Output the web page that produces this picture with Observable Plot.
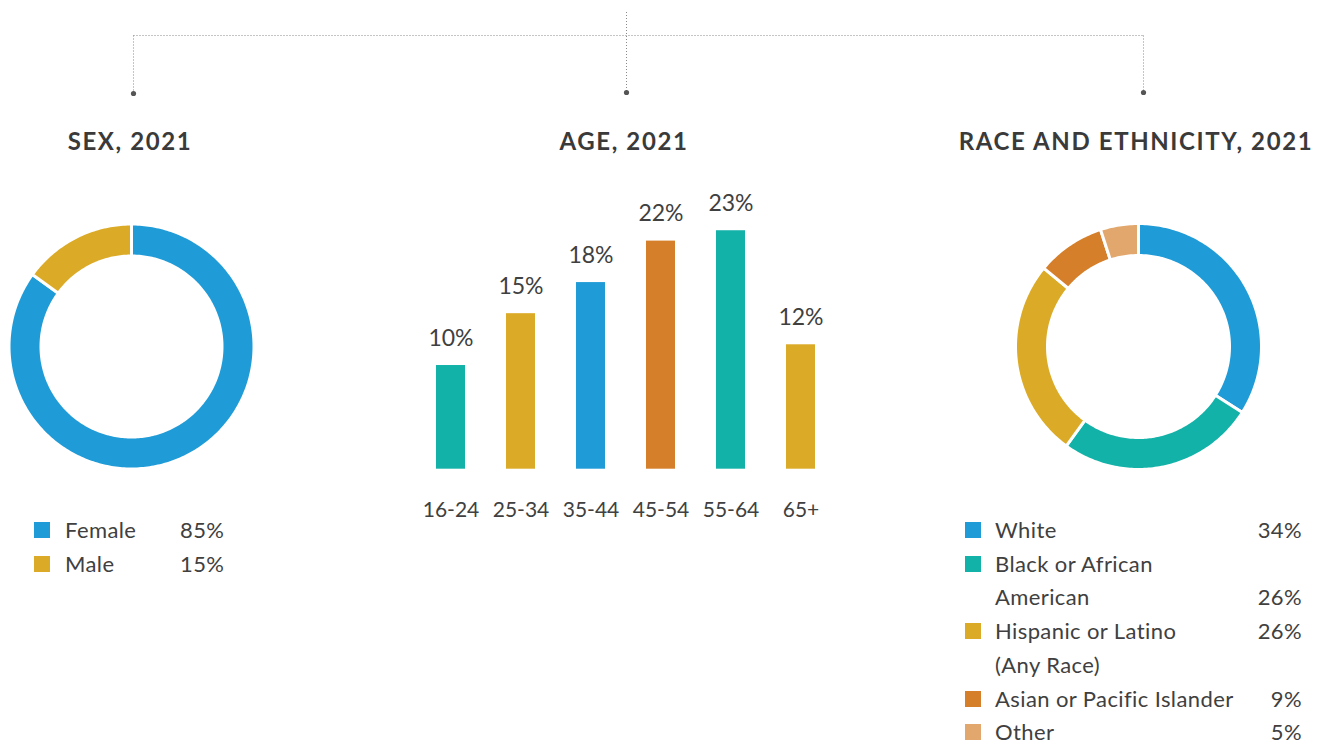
<!DOCTYPE html>
<html><head><meta charset="utf-8">
<script src="https://cdn.jsdelivr.net/npm/d3@7"></script>
<script src="https://cdn.jsdelivr.net/npm/@observablehq/plot@0.6"></script>
<style>
html,body{margin:0;padding:0;background:#fff;}
#root{position:relative;width:1321px;height:745px;overflow:hidden;font-family:Lato,"Open Sans",sans-serif;color:#404040;}
.title{position:absolute;font-weight:700;font-size:24px;letter-spacing:1.6px;color:#3a3a3a;white-space:nowrap;transform:translateX(-50%);line-height:1;}
.leg{position:absolute;font-size:22px;letter-spacing:0.4px;line-height:34px;white-space:nowrap;color:#404040;}
.sw{position:absolute;width:16px;height:16px;}
.panel{position:absolute;}
</style></head><body><div id="root"></div>
<script>
// ---- data ----
const titles = ["SEX, 2021", "AGE, 2021", "RACE AND ETHNICITY, 2021"];

const sexCategories = ["Female", "Male"];
const sexValues = [85, 15];
const sexColors = ["#1f9bd7", "#dbab27"];

const ageCategories = ["16-24", "25-34", "35-44", "45-54", "55-64", "65+"];
const ageValues = [10, 15, 18, 22, 23, 12];
const ageColors = ["#13b2a8", "#dbab27", "#1f9bd7", "#d57f2a", "#13b2a8", "#dbab27"];

const raceCategories = ["White", "Black or African American", "Hispanic or Latino (Any Race)", "Asian or Pacific Islander", "Other"];
const raceLegendLines = [["White"], ["Black or African", "American"], ["Hispanic or Latino", "(Any Race)"], ["Asian or Pacific Islander"], ["Other"]];
const racePctLine = [0, 1, 0, 0, 0];
const raceValues = [34, 26, 26, 9, 5];
const raceColors = ["#1f9bd7", "#13b2a8", "#dbab27", "#d57f2a", "#e2a76c"];

const root = document.getElementById("root");
const FONT = "Lato, 'Open Sans', sans-serif";

// ---- decorative connectors ----
const NS = "http://www.w3.org/2000/svg";
const deco = document.createElementNS(NS, "svg");
deco.setAttribute("width", 1321); deco.setAttribute("height", 120);
deco.style.position = "absolute"; deco.style.left = "0"; deco.style.top = "0";
function dline(x1, y1, x2, y2) {
  const l = document.createElementNS(NS, "line");
  l.setAttribute("x1", x1); l.setAttribute("y1", y1); l.setAttribute("x2", x2); l.setAttribute("y2", y2);
  l.setAttribute("stroke", "#8a8a8a"); l.setAttribute("stroke-width", 1); l.setAttribute("stroke-dasharray", "1 2");
  deco.appendChild(l);
}
function dot(x, y) {
  const c = document.createElementNS(NS, "circle");
  c.setAttribute("cx", x); c.setAttribute("cy", y); c.setAttribute("r", 2.6); c.setAttribute("fill", "#555");
  deco.appendChild(c);
}
dline(133.5, 35.5, 1143.5, 35.5);
dline(133.5, 35.5, 133.5, 93);
dline(626.5, 12, 626.5, 92);
dline(1143.5, 35.5, 1143.5, 92);
dot(133.5, 93.5); dot(626.5, 92.5); dot(1143.5, 92.5);
root.appendChild(deco);

// ---- titles ----
const titleX = [130, 624, 1136];
titles.forEach((t, i) => {
  const d = document.createElement("div");
  d.className = "title"; d.textContent = t;
  d.style.left = titleX[i] + "px"; d.style.top = "129px";
  root.appendChild(d);
});

// ---- donut helper ----
function donut(names, values, colors, size, rOuter, rInner) {
  const arcs = d3.pie().sort(null).value(d => d)(values);
  const pts = [];
  arcs.forEach((s, i) => {
    const n = Math.max(8, Math.ceil((s.endAngle - s.startAngle) / (2 * Math.PI) * 360));
    for (let k = 0; k <= n; k++) {
      const a = s.startAngle + (s.endAngle - s.startAngle) * k / n;
      pts.push({name: names[i], x: rOuter * Math.sin(a), y: rOuter * Math.cos(a)});
    }
    for (let k = n; k >= 0; k--) {
      const a = s.startAngle + (s.endAngle - s.startAngle) * k / n;
      pts.push({name: names[i], x: rInner * Math.sin(a), y: rInner * Math.cos(a)});
    }
  });
  return Plot.plot({
    width: size, height: size, margin: 0,
    x: {domain: [-size / 2, size / 2], axis: null},
    y: {domain: [-size / 2, size / 2], axis: null},
    color: {domain: names, range: colors},
    marks: [
      Plot.line(pts, {x: "x", y: "y", z: "name", fill: "name", stroke: "white", strokeWidth: 3, curve: "linear-closed"})
    ]
  });
}

function place(el, left, top) {
  const w = document.createElement("div");
  w.className = "panel"; w.style.left = left + "px"; w.style.top = top + "px";
  w.appendChild(el); root.appendChild(w);
}

// ---- sex donut ----
place(donut(sexCategories, sexValues, sexColors, 252, 122.5, 90.5), 131 - 126, 345.5 - 126);

// ---- race donut ----
place(donut(raceCategories, raceValues, raceColors, 252, 123, 91), 1137.5 - 126, 345.5 - 126);

// ---- age bars ----
const ageData = ageCategories.map((c, i) => ({age: c, value: ageValues[i]}));
const bars = Plot.plot({
  width: 450, height: 349,
  marginLeft: 13, marginRight: 13, marginTop: 29.5, marginBottom: 60.3,
  style: {fontFamily: FONT, fontSize: "21px", color: "#404040", background: "transparent", overflow: "visible"},
  x: {domain: ageCategories, paddingInner: 0.589, paddingOuter: 0.2945, label: null, tickSize: 0, tickPadding: 33},
  y: {domain: [0, 25], axis: null},
  color: {domain: ageCategories, range: ageColors},
  marks: [
    Plot.barY(ageData, {x: "age", y: "value", fill: "age"}),
    Plot.text(ageData, {x: "age", y: "value", text: d => d.value + "%", dy: -20, lineAnchor: "bottom", fontSize: 23, fill: "#404040"})
  ]
});
place(bars, 400, 180);

// ---- legends ----
function swatch(color, left, centerY) {
  const s = document.createElement("div");
  s.className = "sw"; s.style.background = color;
  s.style.left = left + "px"; s.style.top = (centerY - 8) + "px";
  root.appendChild(s);
}
function text(t, left, centerY, alignRight) {
  const d = document.createElement("div");
  d.className = "leg"; d.textContent = t;
  d.style.top = (centerY - 17) + "px";
  if (alignRight) { d.style.right = (1321 - left) + "px"; } else { d.style.left = left + "px"; }
  root.appendChild(d);
}
sexCategories.forEach((c, i) => {
  const cy = 530 + i * 34;
  swatch(sexColors[i], 34, cy);
  text(c, 65, cy);
  text(sexValues[i] + "%", 180, cy);
});
let line = 0;
raceCategories.forEach((c, i) => {
  const cy0 = 530 + line * 33.7;
  swatch(raceColors[i], 965, cy0);
  raceLegendLines[i].forEach((t, j) => {
    const cy = 530 + (line + j) * 33.7;
    text(t, 995, cy);
    if (j === racePctLine[i]) text(raceValues[i] + "%", 1302, cy, true);
  });
  line += raceLegendLines[i].length;
});
</script>
</body></html>
